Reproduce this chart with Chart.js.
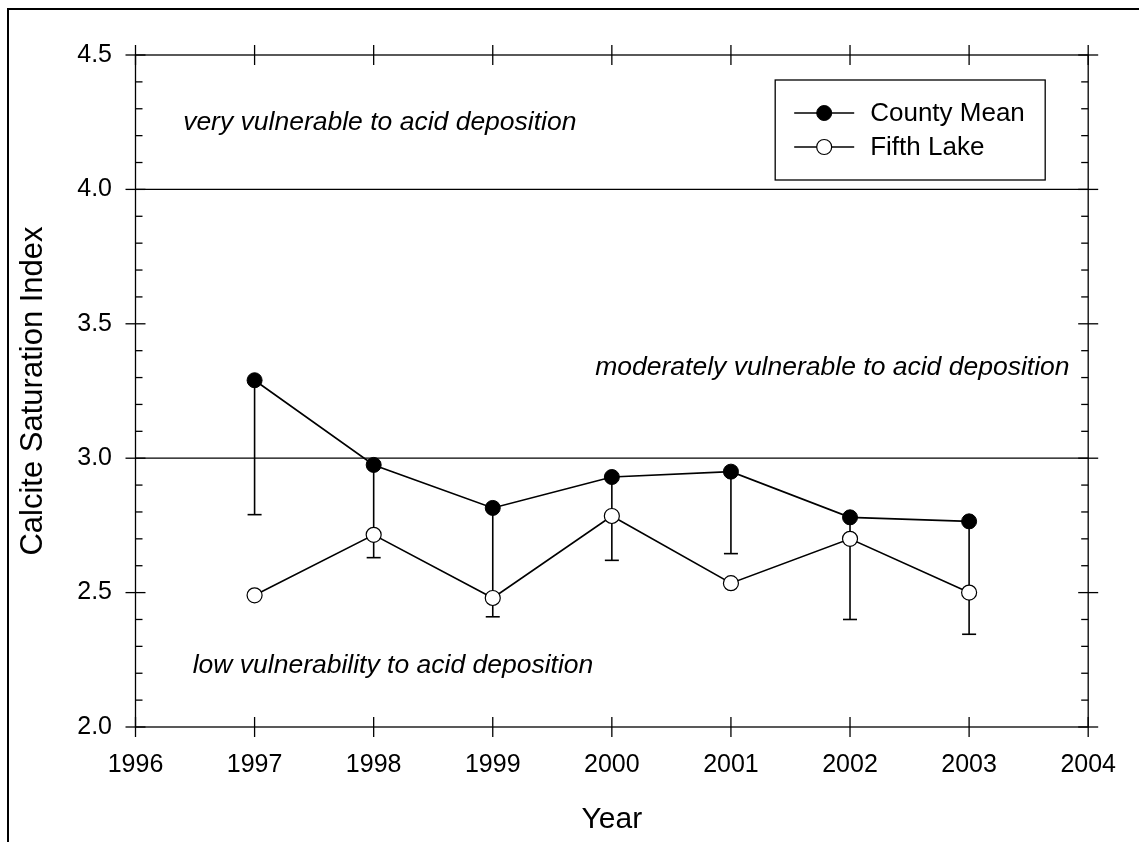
<!DOCTYPE html>
<html>
<head>
<meta charset="utf-8">
<title>Calcite Saturation Index</title>
<script src="https://cdn.jsdelivr.net/npm/chart.js@4.4.1/dist/chart.umd.min.js"></script>
<style>
  html, body { margin: 0; padding: 0; background: #fff; overflow: hidden; }
  #wrap { width: 1139px; height: 842px; }
</style>
</head>
<body>
<div id="wrap"><canvas id="calcite" width="1139" height="842"></canvas></div>
<script>
const years = [1997, 1998, 1999, 2000, 2001, 2002, 2003];
const countyMean = [3.29, 2.975, 2.815, 2.93, 2.95, 2.78, 2.765];
const countyLow = [2.79, 2.63, 2.41, 2.62, 2.645, 2.40, 2.345];
const fifthLake = [2.49, 2.715, 2.48, 2.785, 2.535, 2.70, 2.50];

const zoneLines = [3.0, 4.0];
const zoneText = [
  "very vulnerable to acid deposition",
  "moderately vulnerable to acid deposition",
  "low vulnerability to acid deposition"
];

const FONT = '"Liberation Sans", Arial, sans-serif';

function seg(ctx, x1, y1, x2, y2) {
  ctx.beginPath();
  ctx.moveTo(x1, y1);
  ctx.lineTo(x2, y2);
  ctx.stroke();
}

// frame, ticks, zone lines and error bars
const decor = {
  id: "decor",
  beforeDraw(chart) {
    const ctx = chart.ctx;
    ctx.save();
    ctx.fillStyle = "#000";
    ctx.fillRect(7, 8, 2, chart.height);
    ctx.fillRect(7, 8, chart.width, 2);
    ctx.restore();
  },
  beforeDatasetsDraw(chart) {
    const { ctx, chartArea: a, scales: { x, y } } = chart;
    ctx.save();
    ctx.strokeStyle = "#000";
    ctx.lineWidth = 1.3;

    zoneLines.forEach(v => {
      const py = y.getPixelForValue(v);
      seg(ctx, a.left, py, a.right, py);
    });

    ctx.strokeRect(a.left, a.top, a.right - a.left, a.bottom - a.top);

    x.ticks.forEach(t => {
      const p = x.getPixelForValue(t.value);
      seg(ctx, p, a.bottom - 10, p, a.bottom + 10);
      seg(ctx, p, a.top - 10, p, a.top + 10);
    });
    y.ticks.forEach(t => {
      const p = y.getPixelForValue(t.value);
      seg(ctx, a.left - 10, p, a.left + 10, p);
      seg(ctx, a.right - 10, p, a.right + 10, p);
    });
    // minor ticks every 0.1
    for (let k = 0; k <= (y.max - y.min) * 10 + 0.01; k++) {
      if (k % 5 === 0) continue;
      const p = y.getPixelForValue(y.min + k / 10);
      seg(ctx, a.left, p, a.left + 7, p);
      seg(ctx, a.right - 7, p, a.right, p);
    }

    // one-sided error bars on county mean
    ctx.lineWidth = 1.6;
    years.forEach((yr, i) => {
      const px = x.getPixelForValue(yr);
      const y1 = y.getPixelForValue(countyMean[i]);
      const y2 = y.getPixelForValue(countyLow[i]);
      seg(ctx, px, y1, px, y2);
      seg(ctx, px - 7, y2, px + 7, y2);
    });
    ctx.restore();
  },
  afterDraw(chart) {
    const { ctx, chartArea: a, scales: { x, y } } = chart;
    ctx.save();
    ctx.fillStyle = "#000";
    ctx.strokeStyle = "#000";

    // zone labels
    ctx.font = "italic 26.5px " + FONT;
    ctx.textBaseline = "alphabetic";
    ctx.textAlign = "left";
    ctx.fillText(zoneText[0], x.getPixelForValue(1996.4), y.getPixelForValue(4.22));
    ctx.fillText(zoneText[1], x.getPixelForValue(1999.86), y.getPixelForValue(3.31));
    ctx.fillText(zoneText[2], x.getPixelForValue(1996.48), y.getPixelForValue(2.2));

    // legend box
    const bx = a.right - 313, by = a.top + 25, bw = 270, bh = 100;
    ctx.lineWidth = 1.3;
    ctx.strokeRect(bx, by, bw, bh);
    ctx.font = "26px " + FONT;
    ctx.textBaseline = "middle";
    chart.data.datasets.forEach((ds, i) => {
      const ry = by + 33 + i * 34;
      ctx.lineWidth = ds.borderWidth;
      seg(ctx, bx + 19, ry, bx + 79, ry);
      ctx.beginPath();
      ctx.arc(bx + 49, ry, ds.pointRadius, 0, Math.PI * 2);
      ctx.fillStyle = ds.pointBackgroundColor;
      ctx.fill();
      ctx.lineWidth = ds.pointBorderWidth;
      ctx.stroke();
      ctx.fillStyle = "#000";
      ctx.fillText(ds.label, bx + 95, ry + 1);
    });
    ctx.restore();
  }
};

new Chart(document.getElementById("calcite"), {
  type: "line",
  data: {
    datasets: [
      {
        label: "County Mean",
        data: years.map((yr, i) => ({ x: yr, y: countyMean[i] })),
        borderColor: "#000",
        borderWidth: 1.6,
        pointRadius: 7.5,
        pointBackgroundColor: "#000",
        pointBorderColor: "#000",
        pointBorderWidth: 1,
        tension: 0
      },
      {
        label: "Fifth Lake",
        data: years.map((yr, i) => ({ x: yr, y: fifthLake[i] })),
        borderColor: "#000",
        borderWidth: 1.6,
        pointRadius: 7.5,
        pointBackgroundColor: "#fff",
        pointBorderColor: "#000",
        pointBorderWidth: 1.2,
        tension: 0
      }
    ]
  },
  options: {
    responsive: false,
    animation: false,
    layout: { padding: { top: 55, right: 45, left: 0, bottom: 0 } },
    plugins: { legend: { display: false }, tooltip: { enabled: false } },
    scales: {
      x: {
        type: "linear",
        min: 1996,
        max: 2004,
        grid: { display: false, drawTicks: false },
        border: { display: false },
        ticks: {
          stepSize: 1,
          padding: 23,
          color: "#000",
          font: { family: FONT, size: 25 },
          callback: v => String(v)
        },
        title: {
          display: true,
          text: "Year",
          color: "#000",
          font: { family: FONT, size: 30 },
          padding: { top: 0, bottom: 4 }
        },
        afterFit: s => { s.height = 115; }
      },
      y: {
        min: 2,
        max: 4.5,
        grid: { display: false, drawTicks: false },
        border: { display: false },
        ticks: {
          stepSize: 0.5,
          padding: 23.5,
          color: "#000",
          font: { family: FONT, size: 25 },
          callback: v => v.toFixed(1)
        },
        title: {
          display: true,
          text: "Calcite Saturation Index",
          color: "#000",
          font: { family: FONT, size: 31 },
          padding: { top: 15, bottom: 0 }
        },
        afterFit: s => { s.width = 135.5; }
      }
    }
  },
  plugins: [decor]
});
</script>
</body>
</html>
